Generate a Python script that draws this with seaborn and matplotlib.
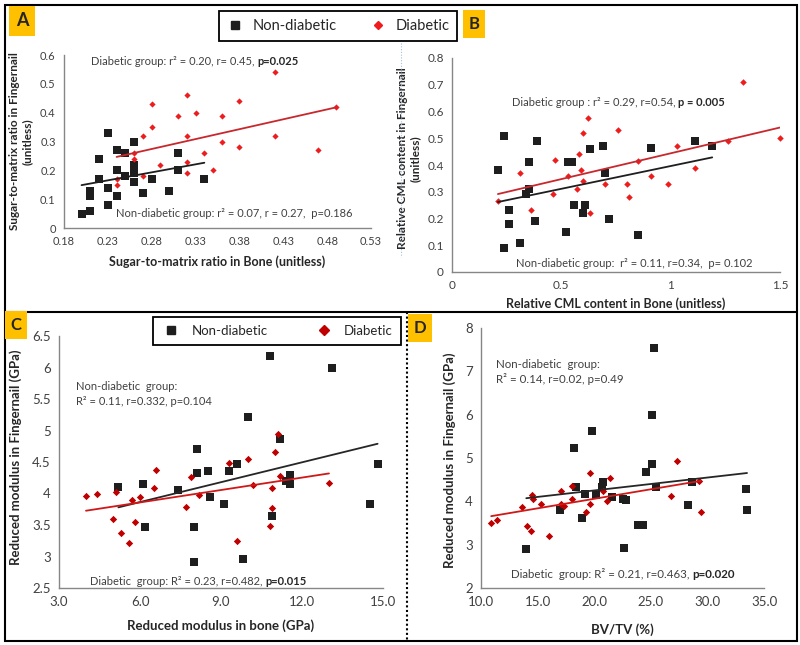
import matplotlib
matplotlib.use("Agg")
import matplotlib.pyplot as plt
from matplotlib.lines import Line2D
from matplotlib.patches import Rectangle
import seaborn as sns
import pandas as pd

# ---- panel A: sugar-to-matrix ratio ----
a_nd_bone = [0.20, 0.21, 0.21, 0.21, 0.22, 0.22, 0.23, 0.23, 0.23, 0.24, 0.24, 0.24,
             0.25, 0.25, 0.26, 0.26, 0.26, 0.26, 0.27, 0.28, 0.30, 0.31, 0.31, 0.34]
a_nd_nail = [0.05, 0.06, 0.11, 0.13, 0.17, 0.24, 0.08, 0.14, 0.33, 0.11, 0.20, 0.27,
             0.18, 0.26, 0.16, 0.19, 0.22, 0.30, 0.12, 0.17, 0.13, 0.20, 0.26, 0.17]
a_d_bone = [0.24, 0.24, 0.26, 0.26, 0.27, 0.27, 0.28, 0.28, 0.29, 0.31, 0.32, 0.32, 0.32,
            0.32, 0.33, 0.34, 0.35, 0.36, 0.36, 0.38, 0.38, 0.42, 0.42, 0.47, 0.49]
a_d_nail = [0.15, 0.17, 0.24, 0.26, 0.18, 0.32, 0.35, 0.43, 0.22, 0.39, 0.46, 0.32, 0.23,
            0.19, 0.40, 0.26, 0.20, 0.39, 0.30, 0.44, 0.28, 0.54, 0.32, 0.27, 0.42]
a_xticks = [0.18, 0.23, 0.28, 0.33, 0.38, 0.43, 0.48, 0.53]
a_xticklabels = ["0.18", "0.23", "0.28", "0.33", "0.38", "0.43", "0.48", "0.53"]
a_yticks = [0, 0.1, 0.2, 0.3, 0.4, 0.5, 0.6]
a_yticklabels = ["0", "0.1", "0.2", "0.3", "0.4", "0.5", "0.6"]

# ---- panel B: relative CML content ----
b_nd_bone = [0.21, 0.24, 0.24, 0.26, 0.26, 0.31, 0.34, 0.35, 0.35, 0.38, 0.39, 0.52, 0.53,
             0.55, 0.56, 0.60, 0.61, 0.63, 0.69, 0.70, 0.72, 0.85, 0.91, 1.11, 1.19]
b_nd_nail = [0.38, 0.51, 0.09, 0.23, 0.18, 0.11, 0.29, 0.31, 0.41, 0.19, 0.49, 0.15, 0.41,
             0.41, 0.25, 0.22, 0.25, 0.46, 0.47, 0.37, 0.20, 0.14, 0.465, 0.49, 0.47]
b_d_bone = [0.21, 0.31, 0.36, 0.46, 0.47, 0.53, 0.57, 0.58, 0.59, 0.60, 0.60, 0.62, 0.63,
            0.70, 0.76, 0.80, 0.81, 0.85, 0.91, 0.99, 1.03, 1.11, 1.26, 1.33, 1.50]
b_d_nail = [0.265, 0.37, 0.23, 0.29, 0.42, 0.36, 0.31, 0.44, 0.38, 0.34, 0.52, 0.575, 0.22,
            0.33, 0.53, 0.33, 0.28, 0.415, 0.36, 0.33, 0.47, 0.39, 0.49, 0.71, 0.50]
b_xticks = [0, 0.5, 1, 1.5]
b_xticklabels = ["0", "0.5", "1", "1.5"]
b_yticks = [0, 0.1, 0.2, 0.3, 0.4, 0.5, 0.6, 0.7, 0.8]
b_yticklabels = ["0", "0.1", "0.2", "0.3", "0.4", "0.5", "0.6", "0.7", "0.8"]

# ---- panel C: reduced modulus, bone vs nail ----
c_nd_bone = [5.2, 6.1, 6.2, 7.4, 8.0, 8.0, 8.1, 8.1, 8.5, 8.6, 9.1, 9.3, 9.6, 9.8, 10.0,
             10.8, 10.9, 11.2, 11.4, 11.55, 11.55, 13.1, 14.5, 14.8]
c_nd_nail = [4.1, 4.15, 3.47, 4.05, 3.47, 2.92, 4.7, 4.33, 4.36, 3.94, 3.83, 4.35, 4.47, 2.96,
             5.22, 6.18, 3.65, 4.87, 4.2, 4.3, 4.15, 6.0, 3.83, 4.47]
c_d_bone = [4.0, 4.4, 5.0, 5.1, 5.3, 5.6, 5.7, 5.8, 6.0, 6.5, 6.6, 7.7, 7.9, 8.2, 9.3, 9.6,
            10.0, 10.2, 10.8, 10.9, 10.9, 11.0, 11.1, 11.2, 13.0]
c_d_nail = [3.96, 3.99, 3.6, 4.03, 3.37, 3.22, 3.9, 3.55, 3.95, 4.08, 4.38, 3.79, 4.26, 3.98,
            4.49, 3.25, 4.55, 4.14, 3.48, 3.77, 4.09, 4.66, 4.94, 4.27, 4.16]
c_xticks = [3, 6, 9, 12, 15]
c_xticklabels = ["3.0", "6.0", "9.0", "12.0", "15.0"]
c_yticks = [2.5, 3, 3.5, 4, 4.5, 5, 5.5, 6, 6.5]
c_yticklabels = ["2.5", "3", "3.5", "4", "4.5", "5", "5.5", "6", "6.5"]

# ---- panel D: BV/TV vs nail modulus ----
d_nd_bvtv = [14.0, 17.0, 18.2, 18.4, 18.9, 19.2, 19.8, 20.2, 20.7, 20.8, 21.6, 22.5, 22.8,
             22.6, 23.9, 24.3, 24.6, 25.1, 25.1, 25.3, 25.5, 28.3, 28.6, 33.4, 33.5]
d_nd_nail = [2.9, 3.8, 5.22, 4.33, 3.62, 4.17, 5.62, 4.14, 4.32, 4.45, 4.11, 4.06, 4.04,
             2.93, 3.45, 3.45, 4.68, 4.86, 6.0, 7.55, 4.33, 3.92, 4.45, 4.28, 3.81]
d_d_bvtv = [10.9, 11.4, 13.6, 14.1, 14.4, 14.5, 14.6, 15.3, 16.0, 17.1, 17.1, 17.3, 18.0,
            18.0, 19.3, 19.6, 19.6, 20.8, 21.1, 21.4, 26.8, 27.3, 29.3, 29.4]
d_d_nail = [3.51, 3.58, 3.88, 3.42, 3.32, 4.14, 4.06, 3.94, 3.21, 4.25, 3.95, 3.89, 4.35,
            4.06, 3.75, 3.94, 4.65, 4.25, 4.0, 4.54, 4.12, 4.92, 4.46, 3.75]
d_xticks = [10, 15, 20, 25, 30, 35]
d_xticklabels = ["10.0", "15.0", "20.0", "25.0", "30.0", "35.0"]
d_yticks = [2, 3, 4, 5, 6, 7, 8]
d_yticklabels = ["2", "3", "4", "5", "6", "7", "8"]

W, H = 800, 645
BLACK = "#1e1e1e"
RED = "#ee1c1c"
DARKRED = "#c00000"
GREY = "#868686"


def fx(px):
    return px / W


def fy(py):
    return 1 - py / H


def add_axes(left, top, right, bottom):
    return fig.add_axes([fx(left), fy(bottom), (right - left) / W, (bottom - top) / H])


def style_axes(ax, xticks, xlabels, yticks, ylabels, tick_size):
    sns.despine(ax=ax)
    for s in ["left", "bottom"]:
        ax.spines[s].set_color(GREY)
        ax.spines[s].set_linewidth(1.0)
    ax.set_xticks(xticks, xlabels)
    ax.set_yticks(yticks, ylabels)
    ax.set_xlim(xticks[0], xticks[-1])
    ax.set_ylim(yticks[0], yticks[-1])
    ax.tick_params(direction="out", length=4, width=0.8, color=GREY,
                   labelcolor="#404040", labelsize=tick_size, pad=2)
    ax.set_facecolor("none")


def draw_group(ax, x, y, marker, size, mcolor, lcolor):
    df = pd.DataFrame({"x": x, "y": y})
    sns.regplot(data=df, x="x", y="y", ax=ax, ci=None, marker=marker,
                scatter_kws={"s": size, "color": mcolor, "linewidths": 0, "clip_on": False,
                             "alpha": 1},
                line_kws={"color": lcolor, "lw": 1.3})
    ax.set_xlabel("")
    ax.set_ylabel("")


def stat_text(x, y, normal, bold=None, size=8):
    t = fig.text(fx(x), fy(y), normal, fontsize=size, color="#404040", va="bottom")
    if bold:
        fig.axes[0].annotate(bold, xy=(1, 0), xycoords=t, fontsize=size, fontweight="bold",
                             color="#262626", va="bottom", ha="left",
                             annotation_clip=False)


def letter(x, y, s, size=12):
    fig.text(fx(x), fy(y), s, fontsize=size, fontweight="bold", ha="center", va="center",
             bbox=dict(boxstyle="square,pad=0.35", fc="#ffc000", ec="none"))


sns.set_style("white")
plt.rcParams["font.family"] = ["Lato", "DejaVu Sans"]

fig = plt.figure(figsize=(W / 100, H / 100), dpi=100)

# panel A
ax_a = add_axes(64, 55, 371, 228)
draw_group(ax_a, a_nd_bone, a_nd_nail, "s", 30, BLACK, BLACK)
draw_group(ax_a, a_d_bone, a_d_nail, "D", 10, RED, "#c8282d")
style_axes(ax_a, a_xticks, a_xticklabels, a_yticks, a_yticklabels, 8)
ax_a.set_xlabel("Sugar-to-matrix ratio in Bone (unitless)", fontsize=9, fontweight="bold")
ax_a.xaxis.set_label_coords(0.5, -0.16)
ax_a.set_ylabel("Sugar-to-matrix ratio in Fingernail\n(unitless)", fontsize=8.5,
                fontweight="bold", va="center", linespacing=1.2)
ax_a.yaxis.set_label_coords(-0.14, 0.5)

# panel B
ax_b = add_axes(452, 58, 780, 272)
draw_group(ax_b, b_nd_bone, b_nd_nail, "s", 32, BLACK, BLACK)
draw_group(ax_b, b_d_bone, b_d_nail, "D", 11, RED, "#c8282d")
style_axes(ax_b, b_xticks, b_xticklabels, b_yticks, b_yticklabels, 8.5)
ax_b.set_xlabel("Relative CML content in Bone (unitless)", fontsize=9, fontweight="bold")
ax_b.xaxis.set_label_coords(0.5, -0.12)
ax_b.set_ylabel("Relative CML content in Fingernail\n(unitless)", fontsize=8.5,
                fontweight="bold", va="center", linespacing=1.2)
ax_b.yaxis.set_label_coords(-0.13, 0.53)

# panel C
ax_c = add_axes(59, 336, 383, 588)
draw_group(ax_c, c_nd_bone, c_nd_nail, "s", 30, BLACK, "#262626")
draw_group(ax_c, c_d_bone, c_d_nail, "D", 14, DARKRED, "#d01818")
style_axes(ax_c, c_xticks, c_xticklabels, c_yticks, c_yticklabels, 9.5)
ax_c.set_xlabel("Reduced modulus in bone (GPa)", fontsize=9.5, fontweight="bold")
ax_c.xaxis.set_label_coords(0.5, -0.125)
ax_c.set_ylabel("Reduced modulus in Fingernail (GPa)", fontsize=9.5, fontweight="bold",
                va="center")
ax_c.yaxis.set_label_coords(-0.135, 0.52)

# panel D
ax_d = add_axes(481, 328, 764, 588)
draw_group(ax_d, d_nd_bvtv, d_nd_nail, "s", 32, BLACK, "#262626")
draw_group(ax_d, d_d_bvtv, d_d_nail, "D", 14, DARKRED, "#d01818")
style_axes(ax_d, d_xticks, d_xticklabels, d_yticks, d_yticklabels, 9.5)
ax_d.set_xlabel("BV/TV (%)", fontsize=9.5, fontweight="bold")
ax_d.xaxis.set_label_coords(0.5, -0.135)
ax_d.set_ylabel("Reduced modulus in Fingernail (GPa)", fontsize=9.5, fontweight="bold",
                va="center")
ax_d.yaxis.set_label_coords(-0.11, 0.49)

# statistics annotations
stat_text(91, 67, "Diabetic group: r² = 0.20, r= 0.45, ", "p=0.025")
stat_text(116, 219, "Non-diabetic group: r² = 0.07, r = 0.27,  p=0.186")
stat_text(512, 108, "Diabetic group : r² = 0.29, r=0.54, ", "p = 0.005")
stat_text(516, 269, "Non-diabetic group:  r² = 0.11, r=0.34,  p= 0.102")
stat_text(76, 392, "Non-diabetic  group:")
stat_text(76, 407, "R² = 0.11, r=0.332, p=0.104")
stat_text(90, 587, "Diabetic  group: R² = 0.23, r=0.482, ", "p=0.015")
stat_text(496, 370, "Non-diabetic  group:", size=8.3)
stat_text(496, 385, "R² = 0.14, r=0.02, p=0.49", size=8.3)
stat_text(511, 580, "Diabetic  group: R² = 0.21, r=0.463, ", "p=0.020", size=8.3)

# legends
top_handles = [Line2D([], [], ls="none", marker="s", ms=6, color=BLACK),
               Line2D([], [], ls="none", marker="D", ms=4, color=RED)]
leg = fig.legend(top_handles, ["Non-diabetic", "Diabetic"], loc="center",
                 bbox_to_anchor=(fx(338), fy(26)), ncol=2, fontsize=10.5,
                 fancybox=False, edgecolor="black", framealpha=1, columnspacing=2.2,
                 handletextpad=0.6, borderpad=0.55, handlelength=1.2)
leg.get_frame().set_linewidth(1.3)
c_handles = [Line2D([], [], ls="none", marker="s", ms=6, color=BLACK),
             Line2D([], [], ls="none", marker="D", ms=5, color=DARKRED)]
leg = fig.legend(c_handles, ["Non-diabetic", "Diabetic"], loc="center",
                 bbox_to_anchor=(fx(277), fy(331)), ncol=2, fontsize=9.5,
                 fancybox=False, edgecolor="black", framealpha=1, columnspacing=3.5,
                 handletextpad=0.8, borderpad=0.6, handlelength=1.5)
leg.get_frame().set_linewidth(1.3)

# panel letters
letter(22, 21, "A", size=13)
letter(474, 24, "B")
letter(16, 325, "C")
letter(420, 328, "D")

# frame and separators
fig.add_artist(Rectangle((fx(5), fy(641)), 792 / W, 636 / H, transform=fig.transFigure,
                         fill=False, lw=1.5, ec="black"))
fig.add_artist(Line2D([fx(5), fx(797)], [fy(312), fy(312)], transform=fig.transFigure,
                      color="black", lw=1.5))
fig.add_artist(Line2D([fx(407), fx(407)], [fy(312), fy(641)], transform=fig.transFigure,
                      color="black", lw=1.5, ls=(0, (1, 1.2))))
fig.add_artist(Line2D([fx(401), fx(401)], [fy(43), fy(257)], transform=fig.transFigure,
                      color="#a9bfd2", lw=0.8, ls=(0, (1, 1.5))))

fig.savefig("out.png", dpi=100)
